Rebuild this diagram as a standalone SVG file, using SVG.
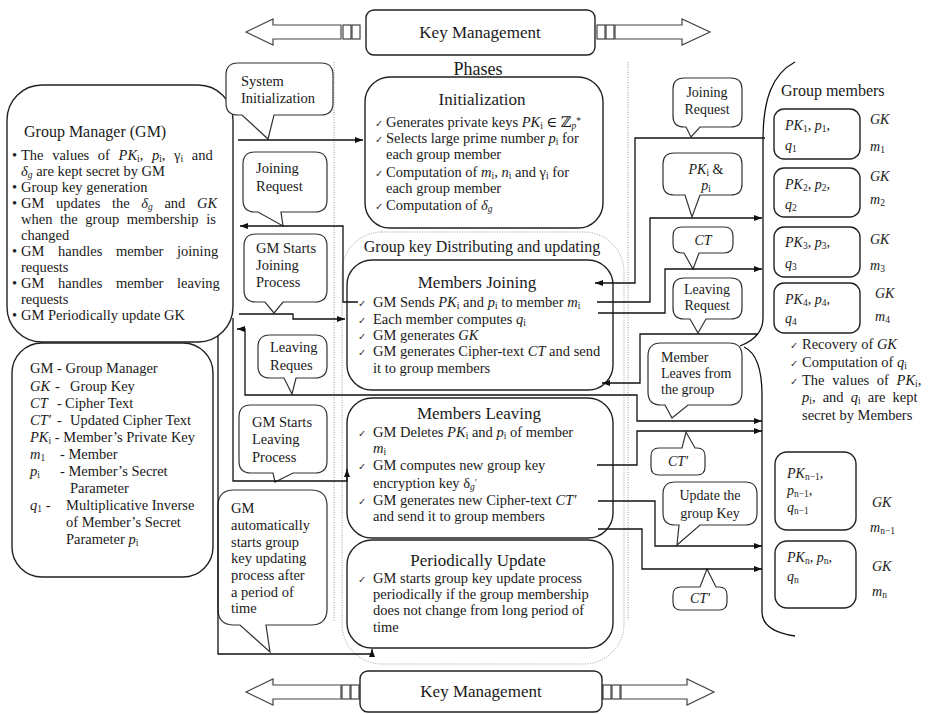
<svg xmlns="http://www.w3.org/2000/svg" width="935" height="714" viewBox="0 0 935 714">
<defs>
<style>
.t{font-family:"Liberation Serif","DejaVu Serif",serif;font-size:14.5px;fill:#1a1a1a}
.r{font-size:14px}
.h{font-size:17px}
.f16{font-size:16px}
.f18{font-size:18px}
.c{text-anchor:middle}
.m{font-style:italic}
.s{font-size:9.5px}
.ck{font-family:"DejaVu Sans",sans-serif;font-size:10px;fill:#333}
.bx{fill:#fff;stroke:#222;stroke-width:1.4}
.co{fill:#fff;stroke:#333;stroke-width:1.2}
.ln{fill:none;stroke:#111;stroke-width:1.3}
.ar{fill:none;stroke:#111;stroke-width:1.3;marker-end:url(#ah)}
.dt{fill:none;stroke:#999;stroke-width:1;stroke-dasharray:1 1.5}
.bk{fill:#fff;stroke:#444;stroke-width:1.2}
</style>
<marker id="ah" viewBox="0 0 8 6" refX="8" refY="3" markerWidth="8" markerHeight="6" orient="auto" markerUnits="userSpaceOnUse"><path d="M0,0 L8,3 L0,6 Z" fill="#111"/></marker>
</defs>
<rect width="935" height="714" fill="#fff"/>

<g id="key-management-top">
<path class="bk" d="M246,32 L273,19 L273,25 L341,25 L341,39 L273,39 L273,45 Z"/>
<rect class="bk" x="343" y="25" width="8" height="14"/><rect class="bk" x="352" y="25" width="8" height="14"/>
<rect class="bk" x="597" y="25" width="8" height="14"/><rect class="bk" x="606" y="25" width="8" height="14"/>
<path class="bk" d="M615,25 L682,25 L682,19 L710,32 L682,45 L682,39 L615,39 Z"/>
<rect class="bx" x="366" y="10" width="229" height="45" rx="8"/>
<text class="t h c" x="480" y="38">Key Management</text>
</g>

<g id="key-management-bottom">
<path class="bk" d="M246,692 L273,679 L273,685 L341,685 L341,699 L273,699 L273,705 Z"/>
<rect class="bk" x="342" y="685" width="8" height="14"/><rect class="bk" x="351" y="685" width="8" height="14"/>
<rect class="bk" x="603" y="685" width="8" height="14"/><rect class="bk" x="612" y="685" width="8" height="14"/>
<path class="bk" d="M621,685 L687,685 L687,679 L714,692 L687,705 L687,699 L621,699 Z"/>
<rect class="bx" x="360" y="671" width="242" height="41" rx="8"/>
<text class="t h c" x="481" y="697">Key Management</text>
</g>

<g id="dividers">
<line class="dt" x1="334" y1="62" x2="334" y2="622"/>
<line class="dt" x1="628" y1="62" x2="628" y2="620"/>
<rect class="dt" x="342" y="232" width="282" height="432" rx="40"/>
</g>

<text id="phases-label" class="t f18 c" x="478" y="75">Phases</text>

<g id="group-manager">
<rect class="bx" x="7" y="85" width="226" height="257" rx="35"/>
<text class="t f16" x="24" y="137">Group Manager (GM)</text>
<text class="t" x="12" y="160">•</text>
<text class="t" x="21" y="160" style="word-spacing:5px">The values of <tspan class="m">PK</tspan><tspan class="s" dy="2">i</tspan><tspan dy="-2">, </tspan><tspan class="m">p</tspan><tspan class="s" dy="2">i</tspan><tspan dy="-2">, γ</tspan><tspan class="s" dy="2">i</tspan><tspan dy="-2"> and</tspan></text>
<text class="t" x="21" y="176"><tspan class="m">δ</tspan><tspan class="s m" dy="2">g</tspan><tspan dy="-2"> are kept secret by GM</tspan></text>
<text class="t" x="12" y="192">•</text>
<text class="t" x="21" y="192">Group key generation</text>
<text class="t" x="12" y="208">•</text>
<text class="t" x="21" y="208" style="word-spacing:8px">GM updates the <tspan class="m">δ</tspan><tspan class="s m" dy="2">g</tspan><tspan dy="-2"> and </tspan><tspan class="m">GK</tspan></text>
<text class="t" x="21" y="224" style="word-spacing:4px">when the group membership is</text>
<text class="t" x="21" y="240">changed</text>
<text class="t" x="12" y="256">•</text>
<text class="t" x="21" y="256" style="word-spacing:10px">GM handles member joining</text>
<text class="t" x="21" y="272">requests</text>
<text class="t" x="12" y="288">•</text>
<text class="t" x="21" y="288" style="word-spacing:10px">GM handles member leaving</text>
<text class="t" x="21" y="304">requests</text>
<text class="t" x="12" y="320">•</text>
<text class="t" x="21" y="320">GM Periodically update GK</text>
</g>

<g id="legend">
<rect class="bx" x="12" y="343" width="201" height="234" rx="30"/>
<text class="t" x="30" y="373">GM - Group Manager</text>
<text class="t m" x="30" y="391">GK</text><text class="t" x="55" y="391">-</text><text class="t" x="70" y="391">Group Key</text>
<text class="t m" x="30" y="408">CT</text><text class="t" x="57" y="408">-</text><text class="t" x="65" y="408">Cipher Text</text>
<text class="t m" x="30" y="425">CT′</text><text class="t" x="57" y="425">-</text><text class="t" x="70" y="425">Updated Cipher Text</text>
<text class="t" x="30" y="442"><tspan class="m">PK</tspan><tspan class="s" dy="2">i</tspan><tspan dy="-2"> - Member’s Private Key</tspan></text>
<text class="t" x="30" y="459"><tspan class="m">m</tspan><tspan class="s" dy="2">1</tspan></text><text class="t" x="60" y="459">- Member</text>
<text class="t" x="30" y="476"><tspan class="m">p</tspan><tspan class="s" dy="2">i</tspan></text><text class="t" x="60" y="476">- Member’s Secret</text>
<text class="t" x="70" y="493">Parameter</text>
<text class="t" x="30" y="510"><tspan class="m">q</tspan><tspan class="s" dy="2">1</tspan><tspan dy="-2"> -</tspan></text><text class="t" x="66" y="510">Multiplicative Inverse</text>
<text class="t" x="66" y="527">of Member’s Secret</text>
<text class="t" x="66" y="544">Parameter <tspan class="m">p</tspan><tspan class="s" dy="2">i</tspan></text>
</g>

<g id="initialization">
<rect class="bx" x="365" y="77" width="238" height="151" rx="25"/>
<text class="t h c" x="482" y="105">Initialization</text>
<text class="ck" x="375" y="127">✓</text>
<text class="t" x="386" y="127">Generates private keys <tspan class="m">PK</tspan><tspan class="s" dy="2">i</tspan><tspan dy="-2"> ∈ ℤ</tspan><tspan class="s m" dy="2">p</tspan><tspan class="s" dy="-5">*</tspan></text>
<text class="ck" x="375" y="143">✓</text>
<text class="t" x="386" y="143">Selects large prime number <tspan class="m">p</tspan><tspan class="s" dy="2">i</tspan><tspan dy="-2"> for</tspan></text>
<text class="t" x="386" y="159">each group member</text>
<text class="ck" x="375" y="177">✓</text>
<text class="t" x="386" y="177">Computation of <tspan class="m">m</tspan><tspan class="s" dy="2">i</tspan><tspan dy="-2">, </tspan><tspan class="m">n</tspan><tspan class="s" dy="2">i</tspan><tspan dy="-2"> and γ</tspan><tspan class="s" dy="2">i</tspan><tspan dy="-2"> for</tspan></text>
<text class="t" x="386" y="193">each group member</text>
<text class="ck" x="375" y="210">✓</text>
<text class="t" x="386" y="210">Computation of <tspan class="m">δ</tspan><tspan class="s m" dy="2">g</tspan></text>
</g>

<text id="distributing-label" class="t f16 c" x="482" y="252">Group key Distributing and updating</text>

<g id="members-joining">
<rect class="bx" x="347" y="260" width="266" height="130" rx="25"/>
<text class="t h c" x="477" y="288">Members Joining</text>
<text class="ck" x="358" y="307">✓</text>
<text class="t" x="373" y="307">GM Sends <tspan class="m">PK</tspan><tspan class="s" dy="2">i</tspan><tspan dy="-2"> and </tspan><tspan class="m">p</tspan><tspan class="s" dy="2">i</tspan><tspan dy="-2"> to member </tspan><tspan class="m">m</tspan><tspan class="s" dy="2">i</tspan></text>
<text class="ck" x="358" y="324">✓</text>
<text class="t" x="373" y="324">Each member computes <tspan class="m">q</tspan><tspan class="s" dy="2">i</tspan></text>
<text class="ck" x="358" y="340">✓</text>
<text class="t" x="373" y="340">GM generates <tspan class="m">GK</tspan></text>
<text class="ck" x="358" y="356">✓</text>
<text class="t" x="373" y="356">GM generates Cipher-text <tspan class="m">CT</tspan> and send</text>
<text class="t" x="373" y="373">it to group members</text>
</g>

<g id="members-leaving">
<rect class="bx" x="347" y="398" width="266" height="140" rx="25"/>
<text class="t h c" x="479" y="419">Members Leaving</text>
<text class="ck" x="358" y="437">✓</text>
<text class="t" x="373" y="437">GM Deletes <tspan class="m">PK</tspan><tspan class="s" dy="2">i</tspan><tspan dy="-2"> and </tspan><tspan class="m">p</tspan><tspan class="s" dy="2">i</tspan><tspan dy="-2"> of member</tspan></text>
<text class="t" x="373" y="453"><tspan class="m">m</tspan><tspan class="s" dy="2">i</tspan></text>
<text class="ck" x="358" y="470">✓</text>
<text class="t" x="373" y="470">GM computes new group key</text>
<text class="t" x="373" y="488">encryption key δ<tspan class="s m" dy="2">g</tspan><tspan class="s" dy="-4">′</tspan></text>
<text class="ck" x="358" y="505">✓</text>
<text class="t" x="373" y="505">GM generates new Cipher-text <tspan class="m">CT′</tspan></text>
<text class="t" x="373" y="521">and send it to group members</text>
</g>

<g id="periodically-update">
<rect class="bx" x="347" y="540" width="266" height="108" rx="25"/>
<text class="t h c" x="478" y="566">Periodically Update</text>
<text class="ck" x="358" y="583">✓</text>
<text class="t" x="373" y="583">GM starts group key update process</text>
<text class="t" x="373" y="599">periodically if the group membership</text>
<text class="t" x="373" y="615">does not change from long period of</text>
<text class="t" x="373" y="632">time</text>
</g>

<g id="callout-system-initialization">
<path class="co" d="M238,63 H321 Q333,63 333,75 V103 Q333,115 321,115 H274 L268,139 L242,115 H238 Q226,115 226,103 V75 Q226,63 238,63 Z"/>
<text class="t" x="241" y="86">System</text>
<text class="t" x="241" y="103">Initialization</text>
</g>
<g id="callout-joining-request-left">
<path class="co" d="M255,152 H315 Q327,152 327,164 V200 Q327,212 315,212 H281 L283,226 L258,212 H255 Q243,212 243,200 V164 Q243,152 255,152 Z"/>
<text class="t" x="256" y="173">Joining</text>
<text class="t" x="256" y="191">Request</text>
</g>
<g id="callout-gm-starts-joining">
<path class="co" d="M256,234 H315 Q327,234 327,246 V290 Q327,302 315,302 H283 L274,313 L265,302 H256 Q244,302 244,290 V246 Q244,234 256,234 Z"/>
<text class="t" x="256" y="253">GM Starts</text>
<text class="t" x="256" y="270">Joining</text>
<text class="t" x="256" y="287">Process</text>
</g>
<g id="callout-leaving-request-left">
<path class="co" d="M270,335 H315 Q327,335 327,347 V366 Q327,378 315,378 H296 L292,394 L284,378 H270 Q258,378 258,366 V347 Q258,335 270,335 Z"/>
<text class="t" x="270" y="352">Leaving</text>
<text class="t" x="270" y="370">Reques</text>
</g>
<g id="callout-gm-starts-leaving">
<path class="co" d="M251,405 H315 Q327,405 327,417 V461 Q327,473 315,473 H293 L275,482 L273,473 H251 Q239,473 239,461 V417 Q239,405 251,405 Z"/>
<text class="t" x="252" y="427">GM Starts</text>
<text class="t" x="252" y="444">Leaving</text>
<text class="t" x="252" y="462">Process</text>
</g>
<g id="callout-gm-automatically">
<path class="co" d="M234,490 H311 Q327,490 327,506 V609 Q327,625 311,625 H266 L270,652 L240,625 H234 Q218,625 218,609 V506 Q218,490 234,490 Z"/>
<text class="t" x="231" y="513">GM</text>
<text class="t" x="231" y="530">automatically</text>
<text class="t" x="231" y="547">starts group</text>
<text class="t" x="231" y="563">key updating</text>
<text class="t" x="231" y="580">process after</text>
<text class="t" x="231" y="597">a period of</text>
<text class="t" x="231" y="613">time</text>
</g>

<g id="callout-joining-request-right">
<path class="co" d="M684,78 H731 Q742,78 742,89 V116 Q742,127 731,127 H700 L691,137 L686,127 H684 Q673,127 673,116 V89 Q673,78 684,78 Z"/>
<text class="t r c" x="707" y="97">Joining</text>
<text class="t r c" x="707" y="114">Request</text>
</g>
<g id="callout-pk-p">
<path class="co" d="M674,153 H731 Q742,153 742,164 V184 Q742,195 731,195 H700 L692,217 L685,195 H674 Q663,195 663,184 V164 Q663,153 674,153 Z"/>
<text class="t r c" x="706" y="174"><tspan class="m">PK</tspan><tspan class="s" dy="2">i</tspan><tspan dy="-2">  &amp;</tspan></text>
<text class="t r c" x="706" y="190"><tspan class="m">p</tspan><tspan class="s" dy="2">i</tspan></text>
</g>
<g id="callout-ct">
<path class="co" d="M682,227 H724 Q733,227 733,236 V244 Q733,253 724,253 H699 L693,269 L684,253 H682 Q673,253 673,244 V236 Q673,227 682,227 Z"/>
<text class="t r c m" x="703" y="245">CT</text>
</g>
<g id="callout-leaving-request-right">
<path class="co" d="M684,278 H731 Q742,278 742,289 V308 Q742,319 731,319 H706 L698,333 L690,319 H684 Q673,319 673,308 V289 Q673,278 684,278 Z"/>
<text class="t r c" x="707" y="294">Leaving</text>
<text class="t r c" x="707" y="310">Request</text>
</g>
<g id="callout-member-leaves">
<path class="co" d="M661,343 H729 Q742,343 742,356 V392 Q742,405 729,405 H688 L672,418 L665,405 H661 Q648,405 648,392 V356 Q648,343 661,343 Z"/>
<text class="t r" x="661" y="362">Member</text>
<text class="t r" x="661" y="378">Leaves from</text>
<text class="t r" x="661" y="394">the group</text>
</g>
<g id="callout-ct-prime-1">
<path class="co" d="M659,448 H682 L686,432 L695,448 H697 Q705,448 705,456 V467 Q705,475 697,475 H659 Q651,475 651,467 V456 Q651,448 659,448 Z"/>
<text class="t r c m" x="678" y="466">CT′</text>
</g>
<g id="callout-update-group-key">
<path class="co" d="M675,482 H745 Q757,482 757,494 V513 Q757,525 745,525 H700 L677,545 L679,525 H675 Q663,525 663,513 V494 Q663,482 675,482 Z"/>
<text class="t r c" x="710" y="500">Update the</text>
<text class="t r c" x="710" y="518">group Key</text>
</g>
<g id="callout-ct-prime-2">
<path class="co" d="M681,587 H700 L707,569 L716,587 H719 Q727,587 727,595 V602 Q727,610 719,610 H681 Q673,610 673,602 V595 Q673,587 681,587 Z"/>
<text class="t r c m" x="700" y="603">CT′</text>
</g>

<g id="group-members">
<path class="ln" d="M795,62 C772,74 763,100 763,140 L763,318 C763,332 753,341 740,346"/>
<path class="ln" d="M744,347 C757,353 762,370 762,395 L762,612 C762,626 775,633 795,636"/>
<text class="t f16" x="781" y="96">Group members</text>
</g>

<g id="member-1">
<rect class="bx" x="774" y="109" width="86" height="50" rx="10"/>
<text class="t r" x="785" y="130"><tspan class="m">PK</tspan><tspan class="s" dy="2">1</tspan><tspan dy="-2">, </tspan><tspan class="m">p</tspan><tspan class="s" dy="2">1</tspan><tspan dy="-2">,</tspan></text>
<text class="t r" x="785" y="150"><tspan class="m">q</tspan><tspan class="s" dy="2">1</tspan></text>
<text class="t r m" x="870" y="124">GK</text>
<text class="t r" x="870" y="151"><tspan class="m">m</tspan><tspan class="s" dy="2">1</tspan></text>
</g>
<g id="member-2">
<rect class="bx" x="774" y="168" width="86" height="49" rx="10"/>
<text class="t r" x="785" y="189"><tspan class="m">PK</tspan><tspan class="s" dy="2">2</tspan><tspan dy="-2">, </tspan><tspan class="m">p</tspan><tspan class="s" dy="2">2</tspan><tspan dy="-2">,</tspan></text>
<text class="t r" x="785" y="209"><tspan class="m">q</tspan><tspan class="s" dy="2">2</tspan></text>
<text class="t r m" x="870" y="181">GK</text>
<text class="t r" x="870" y="204"><tspan class="m">m</tspan><tspan class="s" dy="2">2</tspan></text>
</g>
<g id="member-3">
<rect class="bx" x="774" y="227" width="86" height="50" rx="10"/>
<text class="t r" x="785" y="247"><tspan class="m">PK</tspan><tspan class="s" dy="2">3</tspan><tspan dy="-2">, </tspan><tspan class="m">p</tspan><tspan class="s" dy="2">3</tspan><tspan dy="-2">,</tspan></text>
<text class="t r" x="785" y="268"><tspan class="m">q</tspan><tspan class="s" dy="2">3</tspan></text>
<text class="t r m" x="870" y="244">GK</text>
<text class="t r" x="870" y="270"><tspan class="m">m</tspan><tspan class="s" dy="2">3</tspan></text>
</g>
<g id="member-4">
<rect class="bx" x="774" y="283" width="86" height="50" rx="10"/>
<text class="t r" x="785" y="304"><tspan class="m">PK</tspan><tspan class="s" dy="2">4</tspan><tspan dy="-2">, </tspan><tspan class="m">p</tspan><tspan class="s" dy="2">4</tspan><tspan dy="-2">,</tspan></text>
<text class="t r" x="785" y="323"><tspan class="m">q</tspan><tspan class="s" dy="2">4</tspan></text>
<text class="t r m" x="875" y="298">GK</text>
<text class="t r" x="875" y="321"><tspan class="m">m</tspan><tspan class="s" dy="2">4</tspan></text>
</g>
<g id="member-notes">
<text class="ck" x="790" y="349">✓</text>
<text class="t" x="802" y="349">Recovery of <tspan class="m">GK</tspan></text>
<text class="ck" x="790" y="367">✓</text>
<text class="t" x="802" y="367">Computation of <tspan class="m">q</tspan><tspan class="s" dy="2">i</tspan></text>
<text class="ck" x="790" y="385">✓</text>
<text class="t" x="802" y="385" style="word-spacing:4px">The values of <tspan class="m">PK</tspan><tspan class="s" dy="2">i</tspan><tspan dy="-2">,</tspan></text>
<text class="t" x="802" y="402" style="word-spacing:3.5px"><tspan class="m">p</tspan><tspan class="s" dy="2">i</tspan><tspan dy="-2">,  and </tspan><tspan class="m">q</tspan><tspan class="s" dy="2">i</tspan><tspan dy="-2"> are kept</tspan></text>
<text class="t" x="802" y="420">secret by Members</text>
</g>
<g id="member-n-1">
<rect class="bx" x="775" y="452" width="81" height="78" rx="12"/>
<text class="t r" x="787" y="478"><tspan class="m">PK</tspan><tspan class="s" dy="2">n−1</tspan><tspan dy="-2">,</tspan></text>
<text class="t r" x="787" y="495"><tspan class="m">p</tspan><tspan class="s" dy="2">n−1</tspan><tspan dy="-2">,</tspan></text>
<text class="t r" x="787" y="512"><tspan class="m">q</tspan><tspan class="s" dy="2">n−1</tspan></text>
<text class="t r m" x="872" y="507">GK</text>
<text class="t r" x="870" y="532"><tspan class="m">m</tspan><tspan class="s" dy="2">n−1</tspan></text>
</g>
<g id="member-n">
<rect class="bx" x="775" y="541" width="81" height="67" rx="12"/>
<text class="t r" x="787" y="562"><tspan class="m">PK</tspan><tspan class="s" dy="2">n</tspan><tspan dy="-2">, </tspan><tspan class="m">p</tspan><tspan class="s" dy="2">n</tspan><tspan dy="-2">,</tspan></text>
<text class="t r" x="787" y="581"><tspan class="m">q</tspan><tspan class="s" dy="2">n</tspan></text>
<text class="t r m" x="872" y="571">GK</text>
<text class="t r" x="872" y="596"><tspan class="m">m</tspan><tspan class="s" dy="2">n</tspan></text>
</g>

<g id="connectors">
<path class="ar" d="M238,140 H363"/>
<path class="ar" d="M765,138 H635 V283 H595"/>
<path class="ar" d="M358,302 H343 V226 H240"/>
<path class="ar" d="M239,314 H293 V319 H345"/>
<path class="ar" d="M597,302 H650 V218 H762"/>
<path class="ar" d="M598,313 H665 V269 H762"/>
<path class="ar" d="M757,334 H640 V383 H602"/>
<path class="ar" d="M340,395 H245 V329 H237"/>
<path class="ar" d="M340,395 H637 V421 H762"/>
<path class="ar" d="M233,318 V481 H347 V469"/>
<path class="ar" d="M597,465 H637 V431 H762"/>
<path class="ar" d="M598,501 H655 V546 H762"/>
<path class="ar" d="M598,529 H642 V569 H762"/>
<path class="ar" d="M218,336 V654 H372 V649"/>
</g>
</svg>
